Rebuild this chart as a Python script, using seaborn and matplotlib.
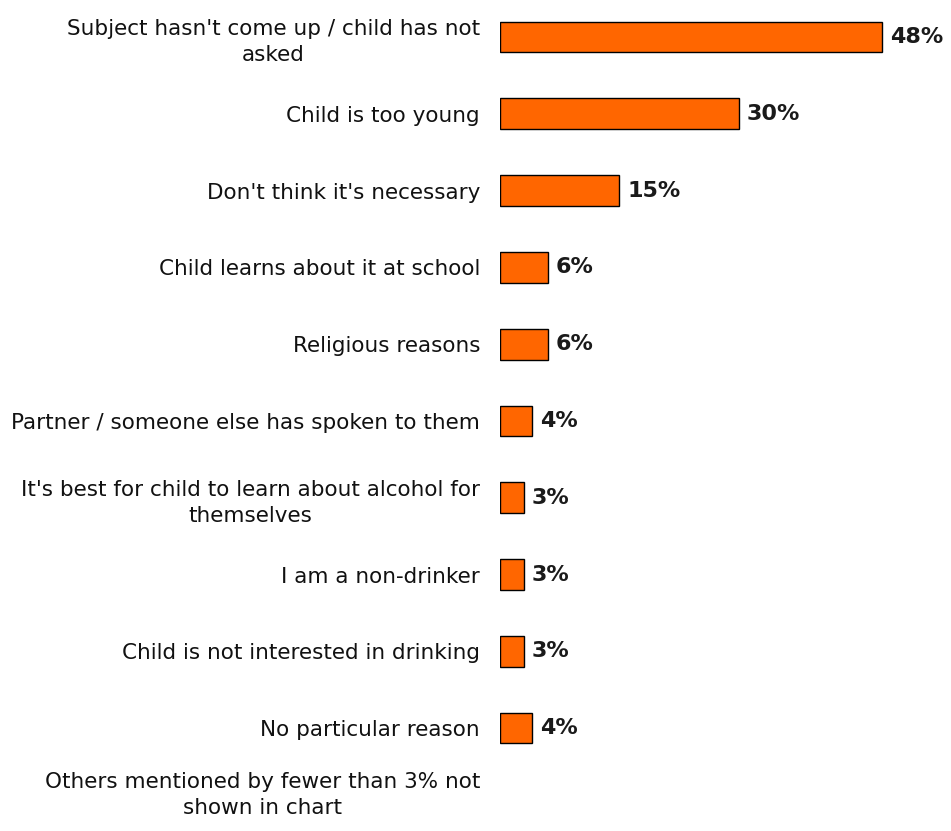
import matplotlib
matplotlib.use("Agg")
import matplotlib.pyplot as plt
import matplotlib.transforms as mtransforms
import numpy as np
import pandas as pd
import seaborn as sns

# Reasons given for not talking to the child about alcohol
reasons = [
    "Subject hasn't come up / child has not\nasked",
    "Child is too young",
    "Don't think it's necessary",
    "Child learns about it at school",
    "Religious reasons",
    "Partner / someone else has spoken to them",
    "It's best for child to learn about alcohol for\nthemselves",
    "I am a non-drinker",
    "Child is not interested in drinking",
    "No particular reason",
    "Others mentioned by fewer than 3% not\nshown in chart",
]
percent = [48, 30, 15, 6, 6, 4, 3, 3, 3, 4, np.nan]

sns.set_theme(style="white")
plt.rcParams["font.family"] = ["DejaVu Sans"]

df = pd.DataFrame({"reason": reasons, "percent": percent})

fig = plt.figure(figsize=(9.51, 8.31), dpi=100)
ax = fig.add_axes([0.5258, 0.0, 0.4742, 1.0])

sns.barplot(
    data=df, x="percent", y="reason", orient="h",
    color="#FF6600", saturation=1, width=0.40,
    edgecolor="black", linewidth=1.0, ax=ax,
)

ax.set_xlim(0, 56.7)
ax.set_ylim(10.34, -0.482)
ax.set_xlabel("")
ax.set_ylabel("")
ax.set_xticks([])
for s in ax.spines.values():
    s.set_visible(False)

ax.tick_params(axis="y", length=0, pad=14.4, labelsize=15.5, labelcolor="#111111")
for lbl in ax.get_yticklabels():
    lbl.set_multialignment("center")
    lbl.set_linespacing(1.4)

# the footnote row carries no bar; lift its label a little
last = ax.get_yticklabels()[-1]
last.set_transform(last.get_transform() + mtransforms.ScaledTranslation(0, 15 / 100, fig.dpi_scale_trans))

for cont in ax.containers:
    labels = ["" if np.isnan(v) else f"{v:.0f}%" for v in cont.datavalues]
    ax.bar_label(cont, labels=labels, padding=5.8, fontsize=16,
                 fontweight="bold", color="#1a1a1a")

fig.savefig("out.png", dpi=100)
